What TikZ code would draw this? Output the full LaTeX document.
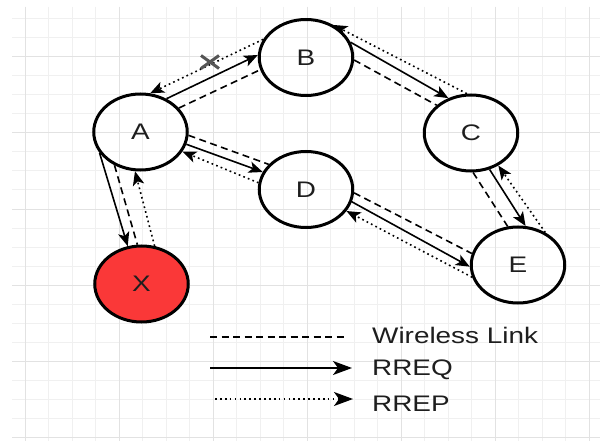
\documentclass[tikz,border=0pt]{standalone}
\usepackage{fontspec}
\setmainfont{Liberation Sans}[FakeStretch=1.24]
\usetikzlibrary{shapes.geometric,arrows.meta}

\definecolor{gridminor}{RGB}{240,240,240}
\definecolor{gridmajor}{RGB}{226,226,226}
\definecolor{hostred}{RGB}{250,56,56}
\definecolor{inktext}{RGB}{30,30,30}
\definecolor{cutgray}{RGB}{85,85,85}

\begin{document}
\begin{tikzpicture}[x=1pt,y=-1pt,
  host/.style={ellipse, draw=black, line width=3pt, minimum width=93.5pt,
    minimum height=76pt, inner sep=0pt,
    font=\fontsize{22.5}{27}\selectfont, text=inktext},
  tipsmall/.style={-{Stealth[length=14pt,width=11.5pt,inset=3.5pt]}},
  tiplarge/.style={-{Stealth[length=19pt,width=14pt,inset=5pt]}},
  link/.style={line width=1.6pt, dash pattern=on 7pt off 4.5pt},
  rreq/.style={line width=1.6pt, tipsmall},
  rrep/.style={line width=1.6pt, dash pattern=on 1.7pt off 3.2pt, tipsmall},
  keytext/.style={anchor=base west, inner sep=0pt, text=inktext,
    font=\fontsize{22.5}{27}\selectfont},
  cutmark/.style={draw=cutgray, line width=3pt}
]
\useasboundingbox (0,0) rectangle (600,441);
\fill[white] (0,0) rectangle (600,441);

% background grid
\foreach \i in {0,...,24} {\draw[gridminor, line width=1pt] ({25+23.5*\i},7) -- ({25+23.5*\i},441);}
\foreach \j in {1,...,23} {\draw[gridminor, line width=1pt] (12,{19*\j}) -- (600,{19*\j});}
\foreach \i in {0,...,6} {\draw[gridmajor, line width=1pt] ({25+94*\i},7) -- ({25+94*\i},441);}
\foreach \j in {0,...,5} {\draw[gridmajor, line width=1pt] (12,{57+76*\j}) -- (600,{57+76*\j});}

% hosts
\node[host] (A) at (140.5,132) {A};
\node[host] (B) at (306,57.5) {B};
\node[host] (C) at (471,133) {C};
\node[host] (D) at (306,189.5) {D};
\node[host] (E) at (518,265) {E};
\node[host, fill=hostred] (X) at (141.5,284) {X};

% A -- B
\draw[rrep] (B.157) -- (A.76);
\draw[rreq] (A.52) -- (B.177);
\draw[link] (A.32) -- (B.195);
% B -- C
\draw[rrep] (C.96) -- (B.50);
\draw[rreq] (B.19) -- (C.123);
\draw[link] (B.357) -- (C.141);
% C -- E
\draw[link] (C.273) -- (E.105);
\draw[rreq] (C.297) -- (E.79);
\draw[rrep] (E.50) -- (C.310);
% D -- E
\draw[link] (D.356) -- (E.166);
\draw[rreq] (D.345) -- (E.182);
\draw[rrep] (E.195) -- (D.332);
% A -- D
\draw[link] (A.356.5) -- (D.146);
\draw[rreq] (A.345) -- (D.158);
\draw[rrep] (D.172) -- (A.335);
% A -- X
\draw[rreq] (A.207) -- (X.110);
\draw[link] (A.232) -- (X.96);
\draw[rrep] (X.71) -- (A.262);

% broken reply on A -- B
\coordinate (cut) at (210,62);
\draw[cutmark] (cut) +(-9,-6.5) -- +(9,6.5);
\draw[cutmark] (cut) +(-9,6.5) -- +(9,-6.5);

% legend
\coordinate (k1a) at (210,337);
\coordinate (k1b) at (345,337);
\coordinate (k2a) at (210,368);
\coordinate (k2b) at (352,368);
\coordinate (k3a) at (215,399);
\coordinate (k3b) at (353,399);
\draw[link] (k1a) -- (k1b);
\draw[line width=1.6pt, tiplarge] (k2a) -- (k2b);
\draw[line width=1.6pt, dash pattern=on 1.7pt off 3.2pt, tiplarge] (k3a) -- (k3b);
\node[keytext] (t1) at (372,343) {Wireless Link};
\node[keytext] (t2) at (372,375) {RREQ};
\node[keytext] (t3) at (372,411.5) {RREP};
\end{tikzpicture}
\end{document}
